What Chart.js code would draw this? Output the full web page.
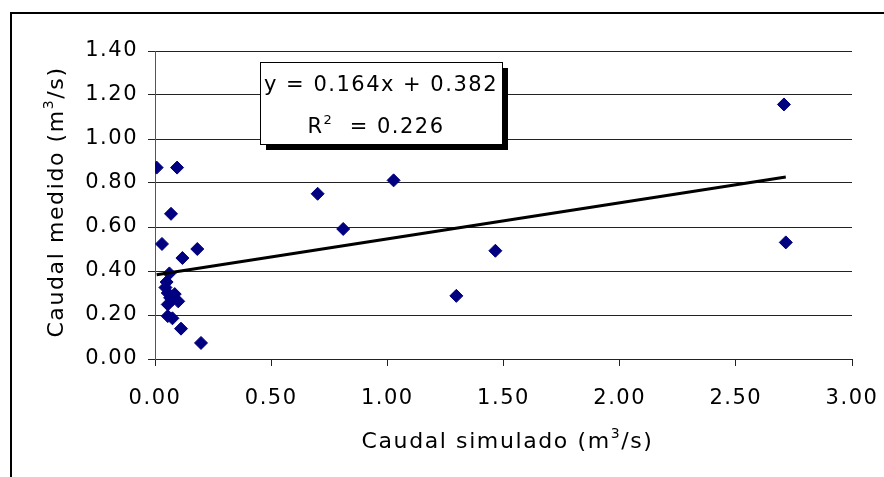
<!DOCTYPE html>
<html>
<head>
<meta charset="utf-8">
<script src="https://cdn.jsdelivr.net/npm/chart.js@4/dist/chart.umd.min.js"></script>
<style>
  html, body { margin: 0; padding: 0; background: #ffffff; }
  #wrap { width: 884px; height: 477px; position: relative; }
</style>
</head>
<body>
<div id="wrap"><canvas id="c" width="884" height="477"></canvas></div>
<script>
// ---- data ----
const simulated = [0.007, 0.095, 0.069, 0.030, 0.182, 0.118, 0.062, 0.050, 0.045, 0.055, 0.085, 0.065, 0.100, 0.075, 0.055, 0.055, 0.075, 0.112, 0.198, 0.700, 0.810, 1.027, 1.297, 1.465, 2.707, 2.715];
const measured  = [0.870, 0.870, 0.660, 0.523, 0.500, 0.459, 0.389, 0.350, 0.325, 0.300, 0.295, 0.278, 0.262, 0.270, 0.248, 0.195, 0.185, 0.138, 0.073, 0.751, 0.591, 0.812, 0.287, 0.492, 1.157, 0.530];
const trendSlope = 0.164;
const trendIntercept = 0.382;
const equationLines = ['y = 0.164x + 0.382', 'R', '2', '  = 0.226'];
const xTitleParts = ['Caudal simulado (m', '3', '/s)'];
const yTitleParts = ['Caudal medido (m', '3', '/s)'];
const xTicks = [0, 0.5, 1, 1.5, 2, 2.5, 3];
const yTicks = [0, 0.2, 0.4, 0.6, 0.8, 1.0, 1.2, 1.4];

const FONT = "'DejaVu Sans', Verdana, sans-serif";
const points = simulated.map((x, i) => ({ x: x, y: measured[i] }));
const xMin = Math.min(...simulated), xMax = Math.max(...simulated);
const trend = [
  { x: xMin, y: trendSlope * xMin + trendIntercept },
  { x: xMax, y: trendSlope * xMax + trendIntercept }
];

function drawParts(ctx, parts, x, y, size, align) {
  const supSize = Math.round(size * 0.62);
  const w = [];
  ctx.font = size + 'px ' + FONT; w[0] = ctx.measureText(parts[0]).width;
  ctx.font = supSize + 'px ' + FONT; w[1] = ctx.measureText(parts[1]).width;
  ctx.font = size + 'px ' + FONT; w[2] = ctx.measureText(parts[2]).width;
  const total = w[0] + w[1] + w[2];
  let cx = align === 'center' ? x - total / 2 : x;
  ctx.textAlign = 'left';
  ctx.textBaseline = 'alphabetic';
  ctx.font = size + 'px ' + FONT; ctx.fillText(parts[0], cx, y); cx += w[0];
  ctx.font = supSize + 'px ' + FONT; ctx.fillText(parts[1], cx, y - size * 0.45); cx += w[1];
  ctx.font = size + 'px ' + FONT; ctx.fillText(parts[2], cx, y);
}

const decor = {
  id: 'decor',
  beforeDraw(chart) {
    const ctx = chart.ctx;
    ctx.letterSpacing = '1.5px';
    ctx.save();
    ctx.fillStyle = '#ffffff';
    ctx.fillRect(0, 0, chart.width, chart.height);
    ctx.strokeStyle = '#000000';
    ctx.lineWidth = 2;
    ctx.beginPath();
    ctx.moveTo(11, chart.height + 5);
    ctx.lineTo(11, 13);
    ctx.lineTo(chart.width + 5, 13);
    ctx.stroke();
    ctx.restore();
  },
  afterDraw(chart) {
    const ctx = chart.ctx;
    const a = chart.chartArea;
    ctx.save();
    ctx.fillStyle = '#000000';
    // axis titles
    ctx.letterSpacing = '1.6px';
    drawParts(ctx, xTitleParts, (a.left + a.right) / 2 + 4, 448, 22, 'center');
    ctx.save();
    ctx.translate(63, (a.top + a.bottom) / 2 - 3);
    ctx.rotate(-Math.PI / 2);
    drawParts(ctx, yTitleParts, 0, 0, 22, 'center');
    ctx.restore();
    // equation box with shadow
    ctx.letterSpacing = '1.5px';
    const bx = 260, by = 62, bw = 242, bh = 82;
    ctx.fillStyle = '#000000';
    ctx.fillRect(bx + 6, by + 6, bw, bh);
    ctx.fillStyle = '#ffffff';
    ctx.fillRect(bx, by, bw, bh);
    ctx.strokeStyle = '#000000';
    ctx.lineWidth = 1;
    ctx.strokeRect(bx + 0.5, by + 0.5, bw, bh);
    ctx.fillStyle = '#000000';
    ctx.font = '21px ' + FONT;
    ctx.textAlign = 'center';
    ctx.textBaseline = 'alphabetic';
    ctx.fillText(equationLines[0], bx + bw / 2, 91);
    drawParts(ctx, [equationLines[1], equationLines[2], equationLines[3]], bx + bw / 2 - 5, 133, 21, 'center');
    ctx.restore();
  }
};

new Chart(document.getElementById('c'), {
  type: 'scatter',
  data: {
    datasets: [
      {
        label: 'Caudal',
        data: points,
        pointStyle: 'rectRot',
        pointRadius: 6.5,
        pointBackgroundColor: '#000080',
        pointBorderColor: '#000080',
        pointBorderWidth: 1,
        order: 1
      },
      {
        label: 'Tendencia',
        type: 'line',
        data: trend,
        borderColor: '#000000',
        borderWidth: 3,
        pointRadius: 0,
        fill: false,
        order: 0
      }
    ]
  },
  options: {
    responsive: false,
    animation: false,
    devicePixelRatio: 1,
    layout: { padding: { top: 51, right: 32, bottom: 0, left: 0 } },
    plugins: { legend: { display: false }, tooltip: { enabled: false } },
    scales: {
      x: {
        type: 'linear',
        min: 0, max: 3,
        afterBuildTicks(s) { s.ticks = xTicks.map(v => ({ value: v })); },
        afterFit(s) { s.height = 118; s.paddingLeft = 0; s.paddingRight = 0; },
        ticks: {
          callback: v => Number(v).toFixed(2),
          color: '#000000',
          font: { family: FONT, size: 21 },
          padding: 20,
          maxRotation: 0,
          autoSkip: false
        },
        grid: { drawOnChartArea: false, drawTicks: true, tickLength: 7, color: '#222222', lineWidth: 1 },
        border: { display: true, color: '#222222', width: 1 }
      },
      y: {
        type: 'linear',
        min: 0, max: 1.4,
        afterBuildTicks(s) { s.ticks = yTicks.map(v => ({ value: v })); },
        afterFit(s) { s.width = 155; s.paddingTop = 0; s.paddingBottom = 0; },
        ticks: {
          callback: v => Number(v).toFixed(2),
          color: '#000000',
          font: { family: FONT, size: 21 },
          padding: 10,
          autoSkip: false
        },
        grid: { drawOnChartArea: true, drawTicks: true, tickLength: 7, color: '#222222', lineWidth: 1 },
        border: { display: true, color: '#555555', width: 1 }
      }
    }
  },
  plugins: [decor]
});
</script>
</body>
</html>
